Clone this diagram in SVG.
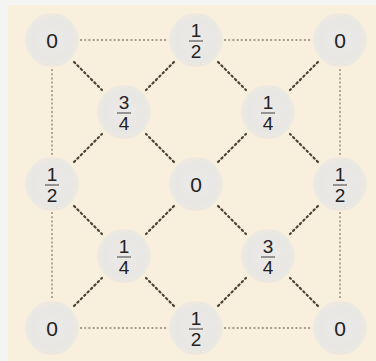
<svg xmlns="http://www.w3.org/2000/svg" width="376" height="361" viewBox="0 0 376 361">
<defs>
<radialGradient id="g" cx="0.5" cy="0.5" r="0.5">
<stop offset="0" stop-color="#ebeae8"/>
<stop offset="0.8" stop-color="#e8e7e4"/>
<stop offset="1" stop-color="#eeeae0"/>
</radialGradient>
</defs>
<style>
.edge{stroke:#8a8070;stroke-width:1.3;stroke-dasharray:2 2.2;fill:none}
.diag{stroke:#4e4538;stroke-width:2.2;stroke-dasharray:1.6 3.2;fill:none;stroke-linecap:round}
.n circle{fill:url(#g)}
.n text{font-family:"Liberation Sans",Arial,sans-serif;fill:#222;text-anchor:middle}
.z{font-size:21px}
.f{font-size:19px}
.bar{stroke:#777;stroke-width:1.5}
</style>
<rect x="0" y="0" width="376" height="361" fill="#f4f4f2"/>
<rect x="8" y="5" width="368" height="356" fill="#f8f0dc"/>
<g id="connectors">
<line class="edge" x1="80" y1="40" x2="168" y2="40"/>
<line class="edge" x1="224" y1="40" x2="312" y2="40"/>
<line class="edge" x1="80" y1="328" x2="168" y2="328"/>
<line class="edge" x1="224" y1="328" x2="312" y2="328"/>
<line class="edge" x1="52" y1="69" x2="52" y2="156"/>
<line class="edge" x1="52" y1="212" x2="52" y2="300"/>
<line class="edge" x1="340" y1="69" x2="340" y2="156"/>
<line class="edge" x1="340" y1="212" x2="340" y2="300"/>
<line class="diag" x1="74" y1="62" x2="102" y2="90"/>
<line class="diag" x1="174" y1="62" x2="146" y2="90"/>
<line class="diag" x1="74" y1="162" x2="102" y2="134"/>
<line class="diag" x1="174" y1="162" x2="146" y2="134"/>
<line class="diag" x1="218" y1="62" x2="246" y2="90"/>
<line class="diag" x1="318" y1="62" x2="290" y2="90"/>
<line class="diag" x1="218" y1="162" x2="246" y2="134"/>
<line class="diag" x1="318" y1="162" x2="290" y2="134"/>
<line class="diag" x1="74" y1="206" x2="102" y2="234"/>
<line class="diag" x1="174" y1="206" x2="146" y2="234"/>
<line class="diag" x1="74" y1="306" x2="102" y2="278"/>
<line class="diag" x1="174" y1="306" x2="146" y2="278"/>
<line class="diag" x1="218" y1="206" x2="246" y2="234"/>
<line class="diag" x1="318" y1="206" x2="290" y2="234"/>
<line class="diag" x1="218" y1="306" x2="246" y2="278"/>
<line class="diag" x1="318" y1="306" x2="290" y2="278"/>
</g>
<g id="n1" class="n"><circle cx="52" cy="40" r="27"/><text class="z" x="52" y="48">0</text></g>
<g id="n2" class="n"><circle cx="196" cy="40" r="27"/><text class="f" x="196" y="37">1</text><line class="bar" x1="189" y1="41" x2="203" y2="41"/><text class="f" x="196" y="58">2</text></g>
<g id="n3" class="n"><circle cx="340" cy="40" r="27"/><text class="z" x="340" y="48">0</text></g>
<g id="n4" class="n"><circle cx="124" cy="112" r="27"/><text class="f" x="124" y="109">3</text><line class="bar" x1="117" y1="113" x2="131" y2="113"/><text class="f" x="124" y="130">4</text></g>
<g id="n5" class="n"><circle cx="268" cy="112" r="27"/><text class="f" x="268" y="109">1</text><line class="bar" x1="261" y1="113" x2="275" y2="113"/><text class="f" x="268" y="130">4</text></g>
<g id="n6" class="n"><circle cx="52" cy="184" r="27"/><text class="f" x="52" y="181">1</text><line class="bar" x1="45" y1="185" x2="59" y2="185"/><text class="f" x="52" y="202">2</text></g>
<g id="n7" class="n"><circle cx="196" cy="184" r="27"/><text class="z" x="196" y="192">0</text></g>
<g id="n8" class="n"><circle cx="340" cy="184" r="27"/><text class="f" x="340" y="181">1</text><line class="bar" x1="333" y1="185" x2="347" y2="185"/><text class="f" x="340" y="202">2</text></g>
<g id="n9" class="n"><circle cx="124" cy="256" r="27"/><text class="f" x="124" y="253">1</text><line class="bar" x1="117" y1="257" x2="131" y2="257"/><text class="f" x="124" y="274">4</text></g>
<g id="n10" class="n"><circle cx="268" cy="256" r="27"/><text class="f" x="268" y="253">3</text><line class="bar" x1="261" y1="257" x2="275" y2="257"/><text class="f" x="268" y="274">4</text></g>
<g id="n11" class="n"><circle cx="52" cy="328" r="27"/><text class="z" x="52" y="336">0</text></g>
<g id="n12" class="n"><circle cx="196" cy="328" r="27"/><text class="f" x="196" y="325">1</text><line class="bar" x1="189" y1="329" x2="203" y2="329"/><text class="f" x="196" y="346">2</text></g>
<g id="n13" class="n"><circle cx="340" cy="328" r="27"/><text class="z" x="340" y="336">0</text></g>
</svg>
